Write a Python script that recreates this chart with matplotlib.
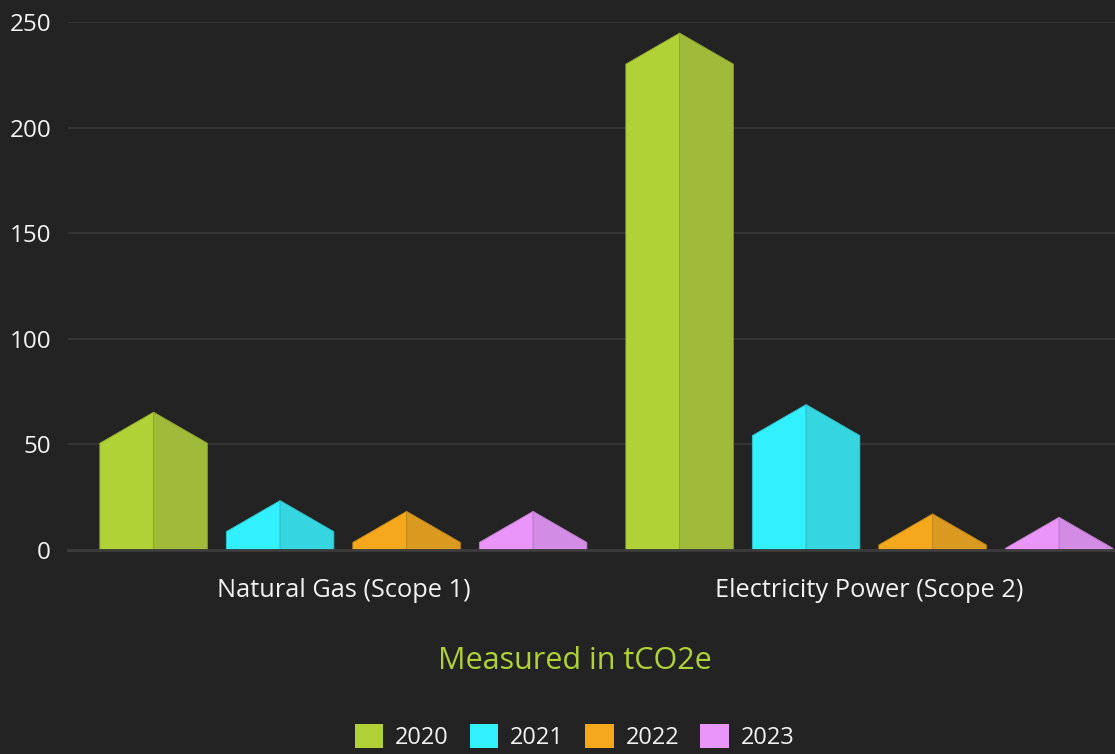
import numpy as np
import matplotlib
matplotlib.use("Agg")
import matplotlib.pyplot as plt
from matplotlib.patches import Patch

plt.rcParams['font.family'] = ['Open Sans', 'DejaVu Sans']

# data (value = top of the bar body, tCO2e)
categories = ["Natural Gas (Scope 1)", "Electricity Power (Scope 2)"]
years = ["2020", "2021", "2022", "2023"]
values = {
    "2020": [50.6, 230.2],
    "2021": [8.7, 54.2],
    "2022": [3.6, 2.4],
    "2023": [3.6, 0.8],
}
y_ticks = [0, 50, 100, 150, 200, 250]

colors_front = ["#b0d236", "#33f0ff", "#f5a81b", "#e995fa"]
colors_side = ["#9fbb39", "#35d6e0", "#d99a1f", "#d38ce3"]
colors_edge = ["#8fa52f", "#2cc3cc", "#c4881a", "#bf7ccf"]

bg = "#232323"
W, H = 1115, 754

fig = plt.figure(figsize=(W / 100, H / 100), dpi=100, facecolor=bg)
ax = fig.add_axes([67.7 / W, 1 - 550 / H, 1 - 67.7 / W, (550 - 22.3) / H])
ax.set_facecolor(bg)
ax.set_xlim(-0.524, 1.467)
ax.set_ylim(0, 250)

# pixel scale, used for the 30 degree roof on each bar
ax_w_px = W * (1 - 67.7 / W)
ax_h_px = 550 - 22.3
px_per_x = ax_w_px / (1.467 + 0.524)
px_per_y = ax_h_px / 250

bar_w = 0.2044
pitch = 0.2405
x = np.arange(len(categories))

for i, yr in enumerate(years):
    for j, v in enumerate(values[yr]):
        xc = x[j] + (i - 1.5) * pitch
        x0, x1 = xc - bar_w / 2, xc + bar_w / 2
        roof = (bar_w / 2 * px_per_x) * np.tan(np.radians(30)) / px_per_y
        ax.fill([x0, x0, xc, xc], [0, v, v + roof, 0],
                color=colors_front[i], ec=colors_edge[i], lw=0.6, zorder=3)
        ax.fill([xc, xc, x1, x1], [0, v + roof, v, 0],
                color=colors_side[i], ec=colors_edge[i], lw=0.6, zorder=3)

ax.set_yticks(y_ticks)
ax.set_yticklabels([str(t) for t in y_ticks])
ax.set_xticks(x)
ax.set_xticklabels(categories)
ax.tick_params(axis='y', length=0, pad=12, labelsize=17.5, labelcolor="#f2f2f2")
ax.tick_params(axis='x', length=0, pad=20, labelsize=18.3, labelcolor="#f2f2f2")
for t in y_ticks[1:]:
    ax.axhline(t, color="#353535", lw=1.5, zorder=1)
ax.axhline(0, color="#3c3c3c", lw=2, zorder=4, clip_on=False)
for s in ax.spines.values():
    s.set_visible(False)

fig.text(574.5 / W, 1 - 661 / H, "Measured in tCO2e", color="#b0d236",
         fontsize=22, ha="center", va="center")

handles = [Patch(facecolor=c, edgecolor="none") for c in colors_front]
leg = fig.legend(handles, years, loc="center", bbox_to_anchor=(574.5 / W, 1 - 737 / H),
                 ncol=4, frameon=False, fontsize=17, labelcolor="#f2f2f2",
                 handlelength=1.2, handleheight=1.2, handletextpad=0.5,
                 columnspacing=0.9)

fig.savefig("out.png", dpi=100, facecolor=bg)
